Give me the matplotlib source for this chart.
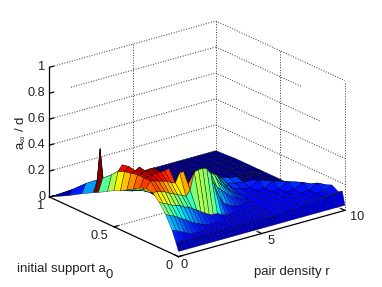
import numpy as np
import matplotlib
matplotlib.use('Agg')
import matplotlib.pyplot as plt

plt.rcParams['font.family'] = ['Liberation Sans', 'DejaVu Sans']
plt.rcParams['mathtext.fontset'] = 'custom'
plt.rcParams['mathtext.rm'] = 'Liberation Sans'
plt.rcParams['mathtext.it'] = 'Liberation Sans'

# valores
a0_values = [0, .02, .05, .1, .15, .2, .25, .3, .35, .4, .45, .5, .55, .62, .64, .66, .75, .85, 1]
r_values = [0, .25, .5, .75, 1, 1.25, 1.5, 1.75, 2, 2.25, 2.5, 2.75, 3, 3.25, 3.5, 3.75, 4, 4.25,
            4.5, 4.75, 5, 5.25, 5.5, 5.75, 6, 6.5, 7, 7.5, 8, 8.5, 9, 9.5, 10]
# una fila por cada r, una columna por cada a0
z_table = [
    [.04, .10, .18, .28, .35, .40, .41, .39, .36, .33, .30, .28, .25, .21, .20, .19, .14, .08, 0],
    [.04, .10, .17, .26, .33, .40, .46, .46, .46, .45, .44, .42, .37, .31, .53, .28, .21, .12, 0],
    [.04, .10, .15, .25, .32, .39, .45, .46, .46, .46, .47, .46, .30, .21, .21, .20, .16, .10, 0],
    [.04, .10, .14, .23, .30, .38, .44, .46, .47, .48, .30, .26, .24, .21, .20, .19, .15, .10, 0],
    [.04, .10, .12, .21, .29, .36, .43, .47, .48, .30, .27, .25, .22, .20, .19, .18, .14, .09, 0],
    [.04, .10, .11, .19, .28, .35, .42, .47, .48, .27, .26, .24, .21, .19, .18, .17, .13, .09, 0],
    [.04, .10, .11, .17, .26, .33, .40, .47, .30, .26, .25, .23, .20, .18, .18, .17, .13, .08, 0],
    [.04, .10, .11, .15, .25, .32, .39, .48, .27, .25, .24, .22, .20, .18, .17, .16, .12, .07, 0],
    [.04, .10, .11, .14, .23, .30, .46, .30, .26, .24, .22, .20, .19, .17, .16, .15, .11, .07, 0],
    [.04, .10, .11, .12, .21, .34, .46, .30, .26, .24, .22, .20, .18, .16, .15, .15, .11, .06, 0],
    [.04, .10, .11, .11, .19, .47, .35, .26, .24, .22, .22, .20, .18, .16, .15, .15, .10, .06, 0],
    [.04, .10, .11, .11, .17, .48, .30, .20, .20, .20, .18, .18, .16, .15, .14, .14, .10, .05, 0],
    [.04, .10, .11, .11, .15, .48, .30, .14, .14, .14, .14, .14, .14, .14, .13, .12, .09, .04, 0],
    [.04, .10, .11, .11, .14, .47, .35, .10, .10, .10, .10, .10, .10, .10, .10, .10, .08, .03, 0],
    [.04, .10, .11, .11, .14, .42, .40, .20, .06, .06, .06, .06, .06, .06, .06, .06, .07, .03, 0],
    [.04, .10, .11, .11, .12, .30, .40, .25, .05, .03, .03, .03, .03, .03, .03, .03, .06, .02, 0],
    [.04, .10, .11, .11, .11, .23, .32, .36, .10, .02, .02, .02, .02, .01, .01, .01, .03, .02, 0],
    [.04, .10, .11, .11, .11, .17, .27, .36, .20, .03, .02, .02, .02, .01, .01, .01, .01, .01, 0],
    [.04, .10, .11, .11, .11, .15, .24, .33, .33, .05, .02, .02, .02, .01, .01, .01, .01, .01, 0],
    [.04, .10, .11, .11, .11, .13, .21, .27, .31, .10, .03, .02, .02, .01, .01, .01, .01, .01, 0],
    [.04, .10, .11, .11, .11, .12, .18, .23, .29, .15, .03, .02, .02, .01, .01, .01, .01, .01, 0],
    [.04, .10, .11, .11, .11, .12, .16, .20, .24, .27, .03, .02, .02, .01, .01, .01, .01, .01, 0],
    [.04, .10, .11, .11, .11, .12, .14, .17, .20, .24, .10, .02, .02, .01, .01, .01, .01, .01, 0],
    [.04, .10, .11, .11, .11, .12, .13, .15, .18, .21, .12, .02, .02, .01, .01, .01, .01, .01, 0],
    [.04, .10, .11, .11, .11, .12, .12, .13, .15, .17, .19, .04, .02, .01, .01, .01, .01, .01, 0],
    [.04, .11, .12, .12, .12, .12, .12, .12, .13, .15, .17, .03, .02, .01, .01, .01, .01, .01, 0],
    [.04, .11, .12, .12, .12, .12, .12, .12, .12, .14, .16, .02, .02, .01, .01, .01, .01, .01, 0],
    [.04, .11, .12, .12, .12, .12, .12, .12, .16, .14, .02, .02, .02, .01, .01, .01, .01, .01, 0],
    [.04, .12, .12, .12, .12, .12, .12, .16, .14, .02, .02, .02, .01, .01, .01, .01, .01, .01, 0],
    [.04, .12, .12, .12, .12, .12, .16, .14, .02, .02, .02, .02, .01, .01, .01, .01, .01, .01, 0],
    [.04, .13, .12, .12, .12, .16, .14, .02, .02, .02, .02, .01, .01, .01, .01, .01, .01, .01, 0],
    [.04, .13, .12, .12, .16, .13, .02, .02, .02, .02, .01, .01, .01, .01, .01, .01, .01, .01, 0],
    [.04, .14, .12, .15, .13, .03, .02, .02, .02, .01, .01, .01, .01, .01, .01, .01, .01, .01, 0],
]
z_ticks = [0, .2, .4, .6, .8, 1]
z_tick_labels = ['0', '0.2', '0.4', '0.6', '0.8', '1']
a0_ticks = [0, .5, 1]
r_ticks = [0, 5, 10]

R, A = np.meshgrid(r_values, a0_values, indexing='ij')
Z = np.array(z_table)

fig = plt.figure(figsize=(3.82, 2.87), dpi=100)
# ejes cuadrados mas altos que la figura para que nada se recorte
ax = fig.add_axes([1 / 382, -48 / 287, 1, 382 / 287], projection='3d', computed_zorder=False)
ax.set_proj_type('ortho')
ax.view_init(elev=21, azim=-127.8)
ax.set_box_aspect((1, 1, 0.66), zoom=.835)
ax.set_xlim(0, 10)
ax.set_ylim(0, 1)
ax.set_zlim(0, 1)
ax.set_axis_off()

# color de cada celda: promedio de sus esquinas, el pico va en rojo oscuro
esquinas = np.array([Z[:-1, :-1], Z[1:, :-1], Z[:-1, 1:], Z[1:, 1:]])
celda = np.zeros_like(Z)
celda[:-1, :-1] = esquinas.mean(axis=0)
celda[:-1, :-1][esquinas.max(axis=0) >= .5] = Z.max()
colores = plt.cm.jet(np.clip(celda / .48, 0, 1) ** 1.5)
ax.plot_surface(R, A, Z, facecolors=colores, rstride=1, cstride=1, shade=False,
                edgecolor=(0, 0, 0, .7), linewidth=.35, zorder=3)

punteado = dict(color='#333333', ls=':', lw=.7, zorder=1)
# paredes del fondo
for z, ini, fin in zip(z_ticks, [0, 0, 0, 0, 1.3, 0], [0, 0, 0, .19, .33, 0]):
    ax.plot([ini, 10], [1, 1], [z, z], **punteado)
    ax.plot([10, 10], [1, fin], [z, z], **punteado)
ax.plot([5, 5], [1, 1], [0, 1], **punteado)
ax.plot([10, 10], [.5, .5], [0, 1], **punteado)
ax.plot([10, 10], [1, 1], [0, 1], **punteado)
ax.plot([10, 10], [0, 0], [0, 1], **punteado)
# piso
ax.plot([0, 10], [.5, .5], [0, 0], **punteado)
ax.plot([5, 5], [0, 1], [0, 0], **punteado)

# ejes
negro = dict(color='black', lw=.9, zorder=5)
ax.plot([0, 0], [1, 1], [0, 1], **negro)
ax.plot([0, 0], [0, 1], [0, 0], **negro)
ax.plot([0, 10], [0, 0], [0, 0], **negro)

for z, lab in zip(z_ticks, z_tick_labels):
    ax.plot([0, .25], [1, 1], [z, z], **negro)
    ax.text(-.1, 1.02, z - .005, lab, ha='right', va='center', fontsize=9.2, color='#222222')
for a in a0_ticks:
    ax.plot([0, .25], [a, a], [0, 0], **negro)
    ax.text(-.35, a, -.06, str(a), ha='right', va='center', fontsize=9.2, color='#222222')
for r in r_ticks:
    ax.plot([r, r], [0, .03], [0, 0], **negro)
    ax.text(r + .2 + r * .04, -.02, -.065, str(r), ha='center', va='center', fontsize=9.2, color='#222222')

fig.text(17 / 382, 1 - 269 / 287, 'initial support a', ha='left', va='center', fontsize=9.5, color='#222222')
fig.text(105 / 382, 1 - 275 / 287, '0', ha='left', va='center', fontsize=9.4, color='#222222')
fig.text(254 / 382, 1 - 272 / 287, 'pair density r', ha='left', va='center', fontsize=9.5, color='#222222')
fig.text(20 / 382, 1 - 133 / 287, r'$\mathregular{a_\infty}$ / d', rotation=90, ha='center', va='center',
         fontsize=9.5, color='#222222')

fig.savefig('out.png', dpi=100)
